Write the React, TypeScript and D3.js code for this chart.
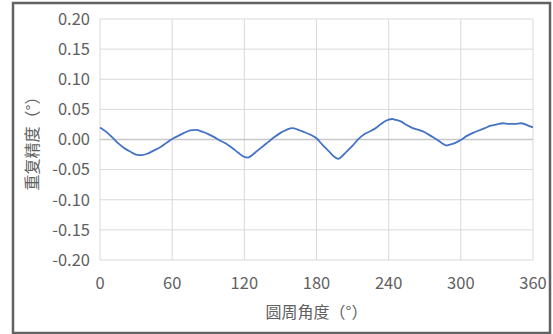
import React from "react";
import * as d3 from "d3";

const angles = [0,5,10,15,20,25,30,35,40,45,50,55,60,65,70,75,80,85,90,95,100,105,110,115,120,123,125,130,135,140,145,150,155,160,165,170,175,180,185,190,195,198,200,205,210,215,220,225,230,235,240,243,245,250,255,260,265,270,275,280,285,288,290,295,300,305,310,315,320,325,330,335,340,345,350,355,360];
const values = [0.020,0.013,0.004,-0.006,-0.014,-0.020,-0.025,-0.026,-0.023,-0.018,-0.013,-0.006,0.001,0.006,0.011,0.015,0.016,0.013,0.009,0.004,-0.002,-0.007,-0.014,-0.022,-0.029,-0.030,-0.028,-0.020,-0.012,-0.004,0.004,0.011,0.016,0.019,0.016,0.012,0.008,0.002,-0.009,-0.019,-0.029,-0.032,-0.030,-0.020,-0.010,0.001,0.009,0.014,0.020,0.028,0.033,0.034,0.033,0.030,0.024,0.019,0.016,0.012,0.006,0.000,-0.007,-0.010,-0.009,-0.006,-0.001,0.006,0.011,0.015,0.019,0.023,0.025,0.027,0.026,0.026,0.027,0.024,0.020];
const xTicks = [0,60,120,180,240,300,360];
const yTicks = [-0.20,-0.15,-0.10,-0.05,0.00,0.05,0.10,0.15,0.20];
const xTitle = "圆周角度（°）";
const yTitle = "重复精度（°）";

export default function App() {
  const W = 553, H = 334;
  const x = d3.scaleLinear().domain([0, 360]).range([100, 533]);
  const y = d3.scaleLinear().domain([-0.2, 0.2]).range([260, 19]);
  const pts = angles.map((a, i) => [a, values[i]] as [number, number]);
  const line = d3.line<[number, number]>().x(d => x(d[0])).y(d => y(d[1])).curve(d3.curveMonotoneX);
  const font = "'Noto Sans CJK SC', 'Noto Sans', sans-serif";
  const txt = "#606060";
  return (
    <svg width={W} height={H} style={{ position: "absolute", left: 0, top: 0, background: "#fff" }}>
      <rect x={0} y={0} width={W} height={H} fill="#fff" />
      <rect x={13} y={3} width={537} height={330} fill="#fff" stroke="#626262" strokeWidth={2.5} />
      {xTicks.map(t => (
        <line key={"gx" + t} x1={x(t)} x2={x(t)} y1={y(0.2)} y2={y(-0.2)} stroke="#d9d9d9" strokeWidth={1} />
      ))}
      {yTicks.map(t => (
        <line key={"gy" + t} x1={x(0)} x2={x(360)} y1={y(t)} y2={y(t)} stroke={t === 0 ? "#c8c8c8" : "#d9d9d9"} strokeWidth={t === 0 ? 1.5 : 1} />
      ))}
      <path d={line(pts) || ""} fill="none" stroke="#4472c4" strokeWidth={1.8} strokeLinejoin="round" />
      {yTicks.map(t => (
        <text key={"ty" + t} x={90} y={y(t)} dy="0.35em" textAnchor="end" fontSize={16.5} fill={txt} fontFamily={font}>
          {t.toFixed(2)}
        </text>
      ))}
      {xTicks.map(t => (
        <text key={"tx" + t} x={x(t)} y={283} dy="0.35em" textAnchor="middle" fontSize={16.5} fill={txt} fontFamily={font}>
          {t}
        </text>
      ))}
      <text x={(x(0) + x(360)) / 2} y={312} dy="0.35em" textAnchor="middle" fontSize={16} fill={txt} fontFamily={font}>
        {xTitle}
      </text>
      <text transform={`translate(32,${(y(0.2) + y(-0.2)) / 2}) rotate(-90)`} dy="0.35em" textAnchor="middle" fontSize={16} fill={txt} fontFamily={font}>
        {yTitle}
      </text>
    </svg>
  );
}
